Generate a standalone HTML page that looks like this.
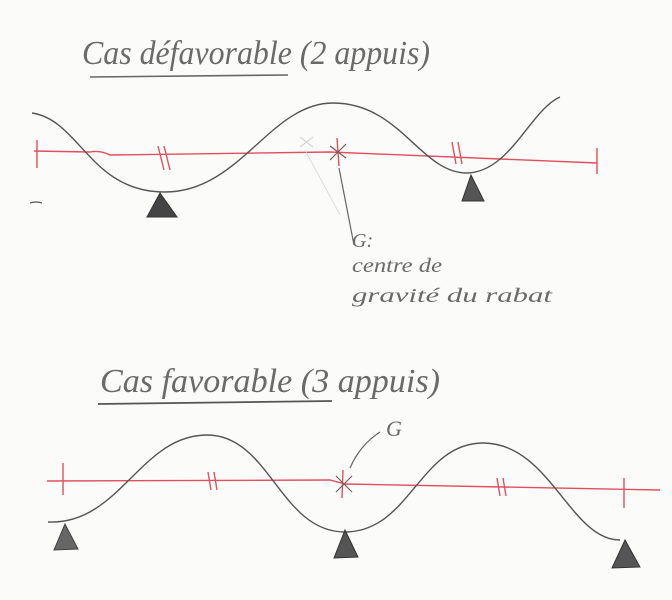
<!DOCTYPE html>
<html><head><meta charset="utf-8"><style>
html,body{margin:0;padding:0;background:#fbfbfa;}
svg{display:block}
text{font-family:"Liberation Serif",serif;font-style:italic;fill:#6a6a6a}
</style></head><body>
<svg width="672" height="600" viewBox="0 0 672 600" xmlns="http://www.w3.org/2000/svg">
<rect width="672" height="600" fill="#fbfbfa"/>
<!-- Top -->
<text x="82" y="64" font-size="34" textLength="348" lengthAdjust="spacingAndGlyphs">Cas défavorable (2 appuis)</text>
<path d="M90 77 L288 75" stroke="#666" stroke-width="1.6" fill="none"/>
<g stroke="#e0505e" stroke-width="1.4" fill="none">
<path d="M34 151 L90 152 Q100 150 110 155 L330 152 L597 163"/>
<path d="M37 140 L37 168 M597 148 L597 174"/>
<path d="M158 146 L164 170 M164 146 L170 170"/>
<path d="M452 142 L456 164 M458 142 L462 164"/>
<path d="M337 138 L339 166"/>
</g>
<path d="M330 146 L346 158 M346 144 L330 160" stroke="#7a5a5a" stroke-width="1.2"/>
<path d="M300 137 L313 147 M313 137 L300 147" stroke="#ccc" stroke-width="1"/>
<path d="M305 150 L340 215" stroke="#ddd" stroke-width="1"/>
<path d="M32 113 C80 120 90 192 165 192 C240 192 270 103 333 103 C400 103 420 172 466 173 C510 173 530 110 560 97" stroke="#555" stroke-width="1.4" fill="none"/>
<path d="M30 203 Q36 201 42 203" stroke="#555" stroke-width="1.3" fill="none"/>
<path d="M160 193 L147 217 L177 217 Z" fill="#444" stroke="#333"/>
<path d="M471 175 L462 201 L484 201 Z" fill="#555" stroke="#333"/>
<path d="M339 168 L354 245" stroke="#666" stroke-width="1.2"/>
<text x="352" y="247" font-size="20">G:</text>
<text x="352" y="272" font-size="20" textLength="90" lengthAdjust="spacingAndGlyphs">centre de</text>
<text x="352" y="302" font-size="20" textLength="200" lengthAdjust="spacingAndGlyphs">gravité du rabat</text>
<!-- Bottom -->
<text x="100" y="392" font-size="34" textLength="340" lengthAdjust="spacingAndGlyphs">Cas favorable (3 appuis)</text>
<path d="M98 404 L332 401" stroke="#555" stroke-width="1.8" fill="none"/>
<g stroke="#e0505e" stroke-width="1.4" fill="none">
<path d="M47 481 L330 480 L345 484 L660 490"/>
<path d="M63 463 L63 495 M624 478 L624 508"/>
<path d="M208 472 L211 490 M214 472 L217 490"/>
<path d="M497 478 L500 496 M503 478 L506 496"/>
<path d="M343 470 L342 498"/>
</g>
<path d="M336 476 L352 492 M352 476 L336 492" stroke="#7a5a5a" stroke-width="1.2"/>
<path d="M350 468 Q360 445 380 432" stroke="#666" stroke-width="1.2" fill="none"/>
<text x="386" y="436" font-size="22">G</text>
<path d="M48 522 C120 525 140 435 207 435 C270 435 280 532 345 532 C410 532 420 443 483 443 C550 443 570 540 620 540" stroke="#555" stroke-width="1.4" fill="none"/>
<path d="M65 524 L54 550 L78 549 Z" fill="#666" stroke="#444"/>
<path d="M345 530 L334 558 L358 557 Z" fill="#555" stroke="#333"/>
<path d="M625 540 L612 568 L640 567 Z" fill="#555" stroke="#333"/>
</svg>
</body></html>
